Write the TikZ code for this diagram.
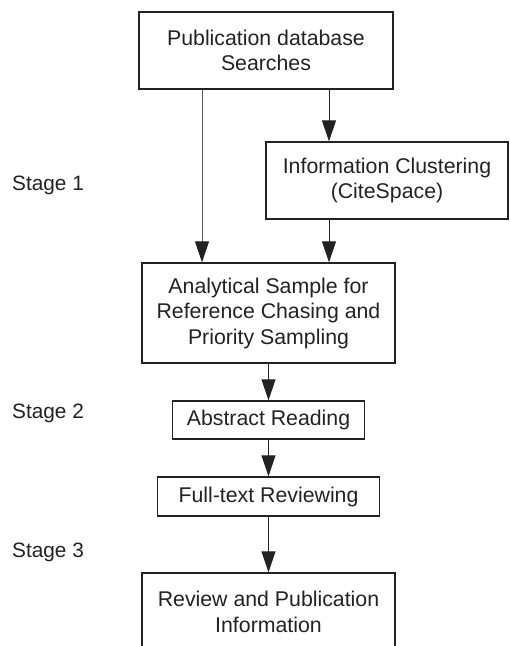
\documentclass[tikz,border=0pt]{standalone}
\usepackage{fontspec}
\setmainfont{Liberation Sans}
\usepackage{tikz}
\usetikzlibrary{arrows.meta}
\definecolor{ink}{HTML}{222222}
\definecolor{rule}{HTML}{555555}
\tikzset{stepbox/.style={draw=ink, line width=1.4pt, text=ink, inner sep=0pt,
   align=center, font=\fontsize{21.3}{25.5}\selectfont},
 stagelabel/.style={anchor=base west, inner sep=0pt, text=ink,
   font=\fontsize{20.8}{25.5}\selectfont},
 flow/.style={draw=ink, line width=1pt, -{Triangle[length=21pt,width=14pt,color=ink]}},
 }

\begin{document}
\begin{tikzpicture}[x=1pt, y=-1pt]
        \useasboundingbox (0,0) rectangle (510,646);
        % boxes
        \node[stepbox, minimum width=254pt, minimum height=77pt] (srch) at (266,50.5)
            {Publication database\\Searches};
        \node[stepbox, minimum width=242pt, minimum height=77pt] (clus) at (387,180.5)
            {Information Clustering\\(CiteSpace)};
        \node[stepbox, minimum width=253pt, minimum height=100pt] (samp) at (268.5,313)
            {Analytical Sample for\\Reference Chasing and\\Priority Sampling};
        \node[stepbox, minimum width=192pt, minimum height=38pt] (abst) at (268.5,420)
            {Abstract Reading};
        \node[stepbox, minimum width=222pt, minimum height=39pt] (full) at (268.5,496.5)
            {Full-text Reviewing};
        \node[stepbox, minimum width=253pt, minimum height=78pt] (rev) at (268.5,612)
            {Review and Publication\\Information};
        % stages
        \node[stagelabel] (st1) at (12,190) {Stage 1};
        \node[stagelabel] (st2) at (12,418) {Stage 2};
        \node[stagelabel] (st3) at (12,557) {Stage 3};
        % connectors
        \coordinate (lx) at (202,0);
        \coordinate (mx) at (329,0);
        \draw[flow, draw=rule] (srch.south -| lx) -- (samp.north -| lx);
        \draw[flow] (srch.south -| mx) -- (clus.north -| mx);
        \draw[flow] (clus.south -| mx) -- (samp.north -| mx);
        \draw[flow] (samp.south) -- (abst.north);
        \draw[flow] (abst.south) -- (full.north);
        \draw[flow] (full.south) -- (rev.north);
    \end{tikzpicture}
\end{document}
